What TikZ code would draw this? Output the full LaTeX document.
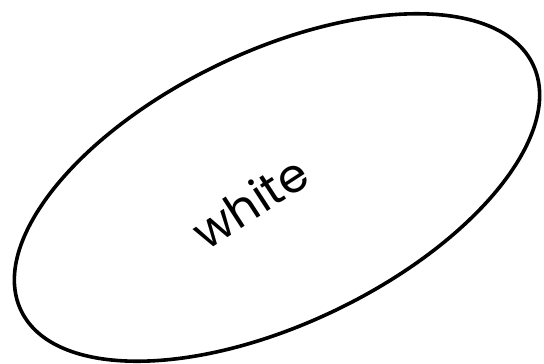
\documentclass[tikz,border=0pt]{standalone}
\usepackage{fontspec}
\setmainfont{Poppins}
\usetikzlibrary{shapes.geometric}

\begin{document}
\begin{tikzpicture}[x=1pt, y=-1pt,
  font=\fontsize{47}{50}\selectfont,
  blob/.style={draw=black, ellipse, line width=3.6pt, inner sep=0pt, minimum width=568pt, minimum height=272pt, rotate=25.7},
  tag/.style={rotate=33, inner sep=0pt}
]
  \useasboundingbox (0,0) rectangle (544,364);
  \node[blob] (oval) at (277,187.5) {};
  \node[tag] (word) at (250,202) {white};
\end{tikzpicture}
\end{document}
